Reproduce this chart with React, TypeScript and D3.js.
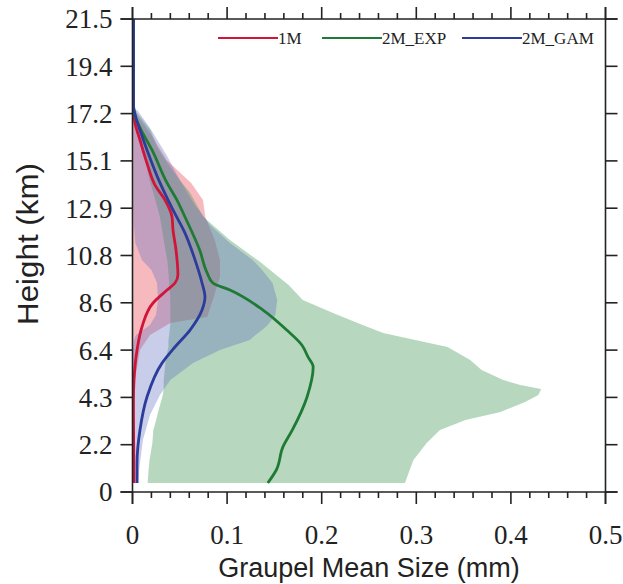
import React from "react";
import * as d3 from "d3";

// ---- axis ticks ----
const heightTicks = [0, 2.15, 4.3, 6.45, 8.6, 10.75, 12.9, 15.05, 17.2, 19.35, 21.5];
const heightLabels = ["0", "2.2", "4.3", "6.4", "8.6", "10.8", "12.9", "15.1", "17.2", "19.4", "21.5"];
const sizeTicks = [0, 0.1, 0.2, 0.3, 0.4, 0.5];
const sizeLabels = ["0", "0.1", "0.2", "0.3", "0.4", "0.5"];
const sizeMinor = [0.02, 0.04, 0.06, 0.08, 0.12, 0.14, 0.16, 0.18, 0.22, 0.24, 0.26, 0.28, 0.32, 0.34, 0.36, 0.38, 0.42, 0.44, 0.46, 0.48];

// ---- mean profiles ----
const h1M = [0.41, 4.18, 5.09, 6.45, 7.5, 8.59, 9.18, 9.5, 9.86, 11.0, 11.91, 12.5, 13.27, 13.95, 14.95, 16.0, 16.77, 17.45, 21.5];
const v1M = [0.0015, 0.001, 0.0016, 0.0048, 0.010, 0.0217, 0.0365, 0.0449, 0.048, 0.046, 0.0428, 0.0418, 0.0344, 0.0238, 0.0153, 0.0079, 0.0026, 0.001, 0.001];

const hEXP = [0.41, 1.0, 2.05, 2.82, 4.32, 5.68, 6.14, 6.68, 7.36, 8.27, 9.18, 9.5, 9.95, 11.0, 12.5, 13.27, 14.05, 15.55, 16.55, 17.27, 17.8, 21.5];
const vEXP = [0.143, 0.152, 0.159, 0.169, 0.1845, 0.191, 0.1855, 0.179, 0.163, 0.138, 0.103, 0.085, 0.079, 0.071, 0.0555, 0.047, 0.0365, 0.0206, 0.008, 0.0016, 0.001, 0.001];

const hGAM = [0.41, 1.32, 2.82, 4.32, 5.86, 6.59, 7.36, 8.27, 8.86, 9.5, 10.55, 11.77, 12.82, 14.05, 15.55, 16.45, 17.0, 17.59, 21.5];
const vGAM = [0.0048, 0.0048, 0.0079, 0.0153, 0.0312, 0.0449, 0.0608, 0.0735, 0.0766, 0.0735, 0.0661, 0.0555, 0.0428, 0.0291, 0.0153, 0.0079, 0.0037, 0.001, 0.001];

// ---- spread bands (min / max) ----
const bandEXPh = [0.41, 1.0, 1.45, 2.23, 2.82, 3.27, 3.64, 4.09, 4.41, 4.68, 4.86, 5.09, 5.55, 6.0, 6.59, 6.91, 7.23, 7.68, 8.14, 8.73, 9.41, 10.45, 11.45, 12.5, 13.59, 14.18, 14.95, 15.68, 16.45, 17.23, 17.59];
const bandEXPlo = [0.016, 0.017, 0.018, 0.021, 0.022, 0.025, 0.027, 0.030, 0.032, 0.033, 0.033, 0.033, 0.034, 0.035, 0.038, 0.038, 0.039, 0.040, 0.040, 0.040, 0.039, 0.037, 0.033, 0.029, 0.022, 0.018, 0.014, 0.010, 0.006, 0.002, 0.0005];
const bandEXPhi = [0.288, 0.293, 0.297, 0.311, 0.325, 0.352, 0.389, 0.415, 0.429, 0.432, 0.410, 0.392, 0.369, 0.357, 0.333, 0.299, 0.265, 0.238, 0.212, 0.180, 0.165, 0.135, 0.103, 0.075, 0.061, 0.050, 0.037, 0.026, 0.019, 0.005, 0.0005];

const bandGAMh = [0.41, 1.0, 2.36, 3.5, 4.41, 5.09, 5.86, 6.45, 6.91, 7.14, 7.36, 7.59, 8.05, 8.73, 9.5, 10.09, 10.55, 11.32, 12.14, 13.05, 14.18, 15.32, 16.55, 17.36];
const bandGAMlo = [0.0005, 0.0005, 0.0005, 0.0005, 0.0005, 0.0005, 0.0005, 0.0005, 0.0016, 0.0037, 0.011, 0.0185, 0.0248, 0.027, 0.026, 0.020, 0.010, 0.003, 0.0015, 0.001, 0.001, 0.001, 0.001, 0.0005];
const bandGAMhi = [0.006, 0.007, 0.011, 0.0185, 0.029, 0.040, 0.064, 0.0925, 0.124, 0.130, 0.137, 0.143, 0.151, 0.153, 0.148, 0.137, 0.127, 0.103, 0.082, 0.066, 0.050, 0.036, 0.0185, 0.005];

const band1Mh = [4.18, 5.09, 6.45, 7.14, 7.68, 7.95, 8.73, 9.77, 10.55, 11.45, 12.5, 13.27, 14.05, 15.09, 16.23, 17.0, 17.45];
const band1Mlo = [0.0005, 0.0005, 0.0005, 0.0005, 0.0005, 0.0005, 0.0005, 0.0005, 0.0005, 0.0005, 0.0005, 0.0005, 0.0005, 0.0005, 0.0005, 0.0005, 0.0005];
const band1Mhi = [0.0005, 0.0026, 0.0079, 0.0185, 0.040, 0.079, 0.085, 0.0925, 0.0925, 0.087, 0.077, 0.0745, 0.062, 0.036, 0.020, 0.007, 0.0005];

const seriesNames = ["1M", "2M_EXP", "2M_GAM"];
const lineColors = ["#d0143a", "#1f7a35", "#2b3c9a"];
const bandColors = ["#e8505a", "#4a9e5c", "#6070c0"];

export default function App() {
  const W = 623, H = 584;
  const left = 132.5, right = 605.5, top = 19, bottom = 492;
  const x = d3.scaleLinear().domain([0, 0.5]).range([left, right]);
  const y = d3.scaleLinear().domain([0, 21.5]).range([bottom, top]);
  const ext = 12;

  const mkLine = (hs: number[], vs: number[]) =>
    d3.line<number>().x((_, i) => x(vs[i])).y((d) => y(d)).curve(d3.curveMonotoneY)(hs) || "";
  const mkBand = (hs: number[], lo: number[], hi: number[]) =>
    d3.area<number>().y((d) => y(d)).x0((_, i) => x(lo[i])).x1((_, i) => x(hi[i])).curve(d3.curveLinear)(hs) || "";

  const serif = "'Liberation Serif', 'DejaVu Serif', serif";
  const sans = "'Liberation Sans', Arial, sans-serif";
  const axisColor = "#222";

  const legendX = [218, 322, 462];

  return (
    <svg width={W} height={H} style={{ position: "absolute", left: 0, top: 0, background: "#fff" }}>
      <rect x={0} y={0} width={W} height={H} fill="#fff" />
      <defs>
        <clipPath id="plot">
          <rect x={left} y={top} width={right - left} height={bottom - top} />
        </clipPath>
      </defs>
      <g clipPath="url(#plot)">
        <path d={mkBand(band1Mh, band1Mlo, band1Mhi)} fill={bandColors[0]} fillOpacity={0.4} />
        <path d={mkBand(bandEXPh, bandEXPlo, bandEXPhi)} fill={bandColors[1]} fillOpacity={0.4} />
        <path d={mkBand(bandGAMh, bandGAMlo, bandGAMhi)} fill={bandColors[2]} fillOpacity={0.35} />
        <path d={mkLine(h1M, v1M)} fill="none" stroke={lineColors[0]} strokeWidth={2.8} />
        <path d={mkLine(hEXP, vEXP)} fill="none" stroke={lineColors[1]} strokeWidth={2.8} />
        <path d={mkLine(hGAM, vGAM)} fill="none" stroke={lineColors[2]} strokeWidth={2.8} />
      </g>

      {/* frame */}
      <g stroke={axisColor} strokeWidth={1.6}>
        <line x1={left - ext} x2={right + ext} y1={bottom} y2={bottom} />
        <line x1={left - ext} x2={right + ext} y1={top} y2={top} />
        <line x1={left} x2={left} y1={top - ext} y2={bottom + ext} />
        <line x1={right} x2={right} y1={top - ext} y2={bottom + ext} />
        {heightTicks.map((t, i) => (
          <g key={"yt" + i}>
            <line x1={left - ext} x2={left} y1={y(t)} y2={y(t)} />
            <line x1={right} x2={right + ext} y1={y(t)} y2={y(t)} />
          </g>
        ))}
        {sizeTicks.map((t, i) => (
          <g key={"xt" + i}>
            <line x1={x(t)} x2={x(t)} y1={bottom} y2={bottom + ext} />
            <line x1={x(t)} x2={x(t)} y1={top} y2={top - ext} />
          </g>
        ))}
        {sizeMinor.map((t, i) => (
          <g key={"xm" + i}>
            <line x1={x(t)} x2={x(t)} y1={bottom} y2={bottom + 6} />
            <line x1={x(t)} x2={x(t)} y1={top} y2={top - 6} />
          </g>
        ))}
      </g>

      {/* tick labels */}
      <g fontFamily={serif} fontSize={27} fill="#222">
        {heightTicks.map((t, i) => (
          <text key={"yl" + i} x={left - ext - 8} y={y(t)} dy="0.35em" textAnchor="end">
            {heightLabels[i]}
          </text>
        ))}
        {sizeTicks.map((t, i) => (
          <text key={"xl" + i} x={x(t)} y={544} textAnchor="middle">
            {sizeLabels[i]}
          </text>
        ))}
      </g>

      {/* axis titles */}
      <text x={(left + right) / 2} y={577} textAnchor="middle" fontFamily={sans} fontSize={27} fill="#222">
        Graupel Mean Size (mm)
      </text>
      <text
        transform={`translate(38, 244) rotate(-90)`}
        textAnchor="middle"
        fontFamily={sans}
        fontSize={29}
        textLength={162}
        lengthAdjust="spacingAndGlyphs"
        fill="#222"
      >
        Height (km)
      </text>

      {/* legend */}
      <g fontFamily={serif} fontSize={17} fill="#222">
        {seriesNames.map((n, i) => (
          <g key={"lg" + i}>
            <line x1={legendX[i]} x2={legendX[i] + 60} y1={38} y2={38} stroke={lineColors[i]} strokeWidth={2} />
            <text x={legendX[i] + 60} y={44}>
              {n}
            </text>
          </g>
        ))}
      </g>
    </svg>
  );
}
